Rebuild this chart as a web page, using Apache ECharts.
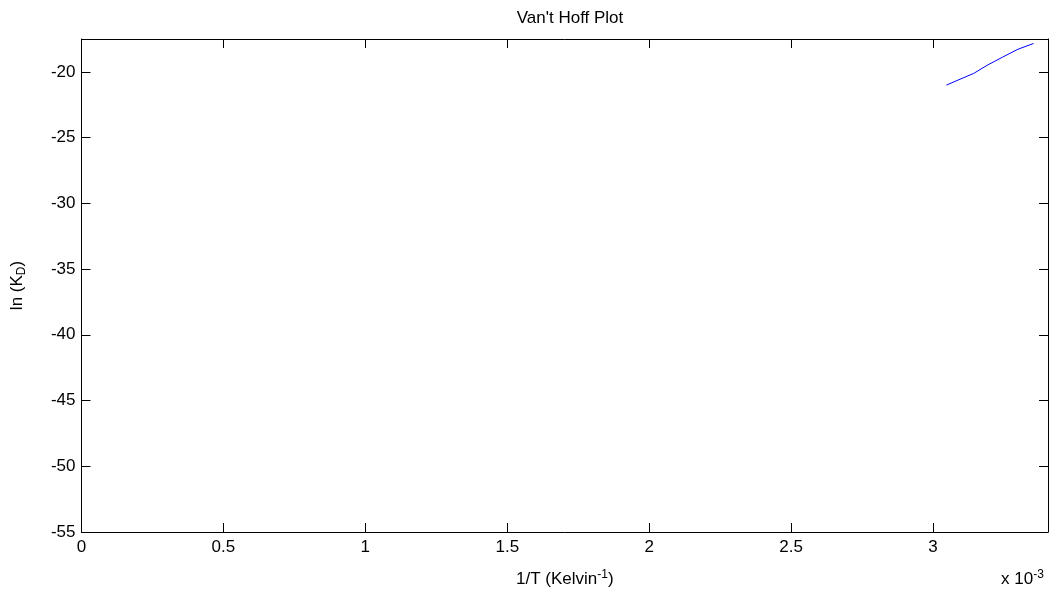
<!DOCTYPE html>
<html>
<head>
<meta charset="utf-8">
<script src="https://cdn.jsdelivr.net/npm/echarts@6/dist/echarts.min.js"></script>
<style>
  html, body { margin: 0; padding: 0; background: #fff; }
  #main { width: 1053px; height: 596px; }
</style>
</head>
<body>
<div id="main"></div>
<script>
// 1/T values (x 10^-3) and ln(KD)
const invT = [3.047, 3.095, 3.143, 3.193, 3.245, 3.299, 3.354];
const lnKD = [-21.01, -20.56, -20.12, -19.47, -18.88, -18.28, -17.84];

const xTicks = { min: 0, max: 3.405, step: 0.5 };
const yTicks = { min: -55, max: -17.5, step: 5 };

const font = 'Liberation Sans, Arial, sans-serif';
const fs = 17;
const myChart = echarts.init(document.getElementById('main'));

const boxAxis = {
    axisLine: { show: true, onZero: false, lineStyle: { color: '#000', width: 1 } },
    axisTick: { show: true, inside: true, length: 9, lineStyle: { color: '#000' } },
    splitLine: { show: false },
};

const option = {
    animation: false,
    backgroundColor: '#fff',
    title: {
        text: "Van't Hoff Plot",
        left: 565,
        top: 5,
        textAlign: 'center',
        textStyle: { fontFamily: font, fontSize: fs, fontWeight: 'normal', color: '#000' }
    },
    grid: { left: 81.5, right: 5, top: 39, bottom: 64 },
    xAxis: [
        Object.assign({}, boxAxis, {
            type: 'value', position: 'bottom',
            min: xTicks.min, max: xTicks.max, interval: xTicks.step,
            name: '1/T (Kelvin{sup|-1})',
            nameLocation: 'middle', nameGap: 37,
            nameTextStyle: {
                fontFamily: font, fontSize: fs, color: '#000',
                rich: { sup: { fontFamily: font, fontSize: 12, color: '#000', verticalAlign: 'bottom', padding: [0, 0, 9, 0] } }
            },
            axisLabel: { fontFamily: font, fontSize: fs, color: '#000', margin: 7, showMaxLabel: false }
        }),
        Object.assign({}, boxAxis, {
            type: 'value', position: 'top',
            min: xTicks.min, max: xTicks.max, interval: xTicks.step,
            axisLabel: { show: false }
        })
    ],
    yAxis: [
        Object.assign({}, boxAxis, {
            type: 'value', position: 'left',
            min: yTicks.min, max: yTicks.max, interval: yTicks.step,
            name: 'ln (K{sub|D})',
            nameLocation: 'middle', nameGap: 54,
            nameTextStyle: {
                fontFamily: font, fontSize: fs, color: '#000',
                rich: { sub: { fontFamily: font, fontSize: 12, color: '#000', verticalAlign: 'top', padding: [9, 0, 0, 0] } }
            },
            axisLabel: { fontFamily: font, fontSize: fs, color: '#000', margin: 6, showMaxLabel: false }
        }),
        Object.assign({}, boxAxis, {
            type: 'value', position: 'right',
            min: yTicks.min, max: yTicks.max, interval: yTicks.step,
            axisLabel: { show: false }
        })
    ],
    graphic: [{
        type: 'text',
        left: 1001,
        top: 569,
        style: {
            text: 'x 10{sup|-3}',
            font: fs + 'px ' + font,
            fill: '#000',
            rich: { sup: { fontSize: 12, fontFamily: font, fill: '#000', verticalAlign: 'bottom', padding: [0, 0, 9, 0] } }
        }
    }],
    series: [{
        type: 'line',
        xAxisIndex: 0,
        yAxisIndex: 0,
        data: invT.map((x, i) => [x, lnKD[i]]),
        showSymbol: false,
        lineStyle: { color: '#0000ff', width: 1 },
        itemStyle: { color: '#0000ff' }
    }]
};

myChart.setOption(option);
</script>
</body>
</html>
